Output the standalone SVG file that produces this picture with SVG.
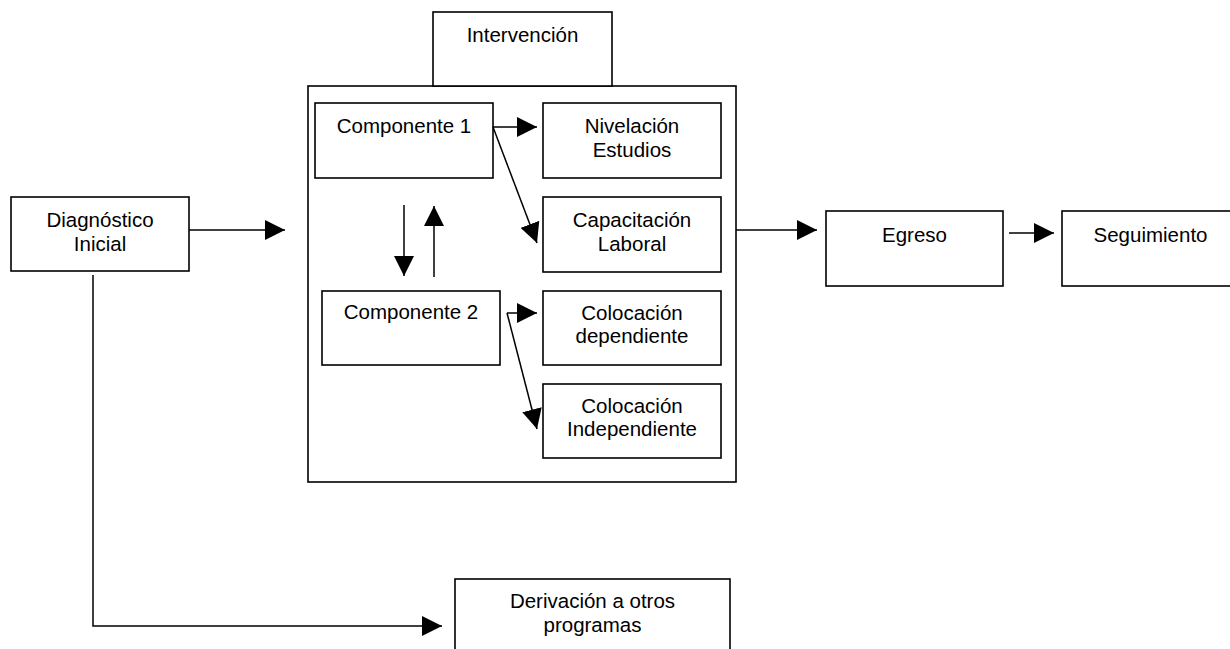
<svg xmlns="http://www.w3.org/2000/svg" width="1230" height="649" viewBox="0 0 1230 649">
<style>
.box{fill:#fff;stroke:#000;stroke-width:1.6}
.t{font-family:"Liberation Sans",Arial,sans-serif;font-size:20.5px;fill:#000;text-anchor:middle}
.c{fill:none;stroke:#000;stroke-width:1.5}
</style>
<defs>
<marker id="ah" markerUnits="userSpaceOnUse" markerWidth="20" markerHeight="20" refX="20" refY="10" orient="auto" viewBox="0 0 20 20">
<path d="M0,0 L20,10 L0,20 z" fill="#000"/>
</marker>
</defs>
<rect width="1230" height="649" fill="#fff"/>
<g id="intervencion">
<rect class="box" x="308" y="86" width="428" height="396"/>
<rect class="box" x="433" y="12" width="179" height="74"/>
<text class="t" x="522.5" y="42">Intervención</text>
</g>
<g id="diagnostico">
<rect class="box" x="11" y="197" width="178" height="74"/>
<text class="t" x="100" y="227">Diagnóstico</text>
<text class="t" x="100" y="251">Inicial</text>
</g>
<g id="componente1">
<rect class="box" x="315" y="103" width="178" height="75"/>
<text class="t" x="404" y="133">Componente 1</text>
</g>
<g id="nivelacion">
<rect class="box" x="543" y="103" width="178" height="75"/>
<text class="t" x="632" y="133">Nivelación</text>
<text class="t" x="632" y="157">Estudios</text>
</g>
<g id="capacitacion">
<rect class="box" x="543" y="197" width="178" height="75"/>
<text class="t" x="632" y="227">Capacitación</text>
<text class="t" x="632" y="251">Laboral</text>
</g>
<g id="componente2">
<rect class="box" x="322" y="291" width="178" height="74"/>
<text class="t" x="411" y="319">Componente 2</text>
</g>
<g id="colocacion-dep">
<rect class="box" x="543" y="291" width="178" height="74"/>
<text class="t" x="632" y="320">Colocación</text>
<text class="t" x="632" y="343">dependiente</text>
</g>
<g id="colocacion-ind">
<rect class="box" x="543" y="384" width="178" height="74"/>
<text class="t" x="632" y="413">Colocación</text>
<text class="t" x="632" y="436">Independiente</text>
</g>
<g id="egreso">
<rect class="box" x="826" y="211" width="177" height="75"/>
<text class="t" x="914.5" y="242">Egreso</text>
</g>
<g id="seguimiento">
<rect class="box" x="1062" y="211" width="177" height="75"/>
<text class="t" x="1150.5" y="242">Seguimiento</text>
</g>
<g id="derivacion">
<rect class="box" x="455" y="579" width="275" height="90"/>
<text class="t" x="592.5" y="608">Derivación a otros</text>
<text class="t" x="592.5" y="632">programas</text>
</g>
<g id="connectors">
<line class="c" x1="189" y1="230" x2="285" y2="230" marker-end="url(#ah)"/>
<polyline class="c" points="93,275 93,626 442,626" marker-end="url(#ah)"/>
<line class="c" x1="493" y1="127" x2="537" y2="127" marker-end="url(#ah)"/>
<line class="c" x1="493" y1="127" x2="537" y2="243" marker-end="url(#ah)"/>
<line class="c" x1="404" y1="205" x2="404" y2="276" marker-end="url(#ah)"/>
<line class="c" x1="434" y1="277" x2="434" y2="206" marker-end="url(#ah)"/>
<line class="c" x1="507" y1="313" x2="537" y2="313" marker-end="url(#ah)"/>
<line class="c" x1="507" y1="313" x2="537" y2="429" marker-end="url(#ah)"/>
<line class="c" x1="736" y1="230" x2="817" y2="230" marker-end="url(#ah)"/>
<line class="c" x1="1009" y1="233" x2="1054" y2="233" marker-end="url(#ah)"/>
</g>
</svg>
